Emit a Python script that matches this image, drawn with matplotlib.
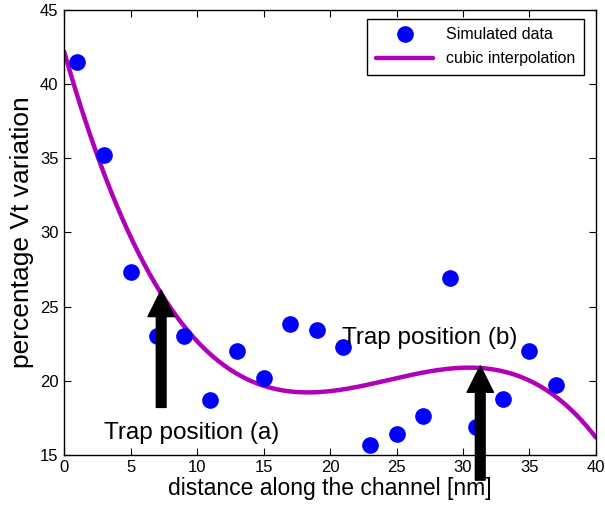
import numpy as np
import matplotlib
matplotlib.use("Agg")
import matplotlib.pyplot as plt

plt.rcParams['font.family'] = ['Liberation Sans', 'DejaVu Sans']

# data
distance = [1, 3, 5, 7, 9, 11, 13, 15, 17, 19, 21, 23, 25, 27, 29, 31, 33, 35, 37]
vt_variation = [41.5, 35.2, 27.3, 23.0, 23.0, 18.7, 22.0, 20.2, 23.8, 23.4, 22.3,
                15.7, 16.4, 17.6, 26.9, 16.9, 18.8, 22.0, 19.7]

xticks = [0, 5, 10, 15, 20, 25, 30, 35, 40]
yticks = [15, 20, 25, 30, 35, 40, 45]

# cubic fit of the simulated data
coef = np.polyfit(distance, vt_variation, 3)
curve_x = np.linspace(0, 40, 400)
curve_y = np.polyval(coef, curve_x)

fig = plt.figure(figsize=(6.05, 5.14), dpi=100)
ax = fig.add_axes([0.106, 0.115, 0.879, 0.866])

ax.plot(distance, vt_variation, 'o', color='#0000FF', markersize=12,
        markeredgewidth=0, label='Simulated data', zorder=3)
ax.plot(curve_x, curve_y, '-', color='#B000B8', linewidth=3.2, label='cubic interpolation',
        zorder=2, solid_capstyle='round')

ax.set_xlim(0, 40)
ax.set_ylim(15, 45)
ax.set_xticks(xticks)
ax.set_yticks(yticks)
ax.tick_params(direction='in', top=True, right=True, labelsize=12, length=5, pad=4)
for s in ax.spines.values():
    s.set_linewidth(1)

ax.set_xlabel('distance along the channel [nm]', fontsize=16.5, labelpad=1)
ax.set_ylabel('percentage Vt variation', fontsize=19, labelpad=4)

arrow = dict(arrowstyle='simple,head_width=1.9,head_length=1.9,tail_width=0.7',
             fc='black', ec='black', shrinkA=0, shrinkB=0)
ax.annotate('', xy=(7.3, 26.1), xytext=(7.3, 18.2), arrowprops=arrow,
            annotation_clip=False)
ax.annotate('', xy=(31.3, 21.0), xytext=(31.3, 13.3), arrowprops=arrow,
            annotation_clip=False)

ax.text(9.6, 16.5, 'Trap position (a)', fontsize=17.5, ha='center', va='center')
ax.text(27.5, 22.9, 'Trap position (b)', fontsize=17.5, ha='center', va='center')

leg = ax.legend(loc='upper right', fontsize=11.5, fancybox=False, framealpha=1,
                edgecolor='black', borderpad=0.55, handlelength=3.6,
                bbox_to_anchor=(0.978, 0.98), labelspacing=0.55,
                borderaxespad=0)
leg.get_frame().set_linewidth(1)

fig.savefig('out.png', dpi=100)
